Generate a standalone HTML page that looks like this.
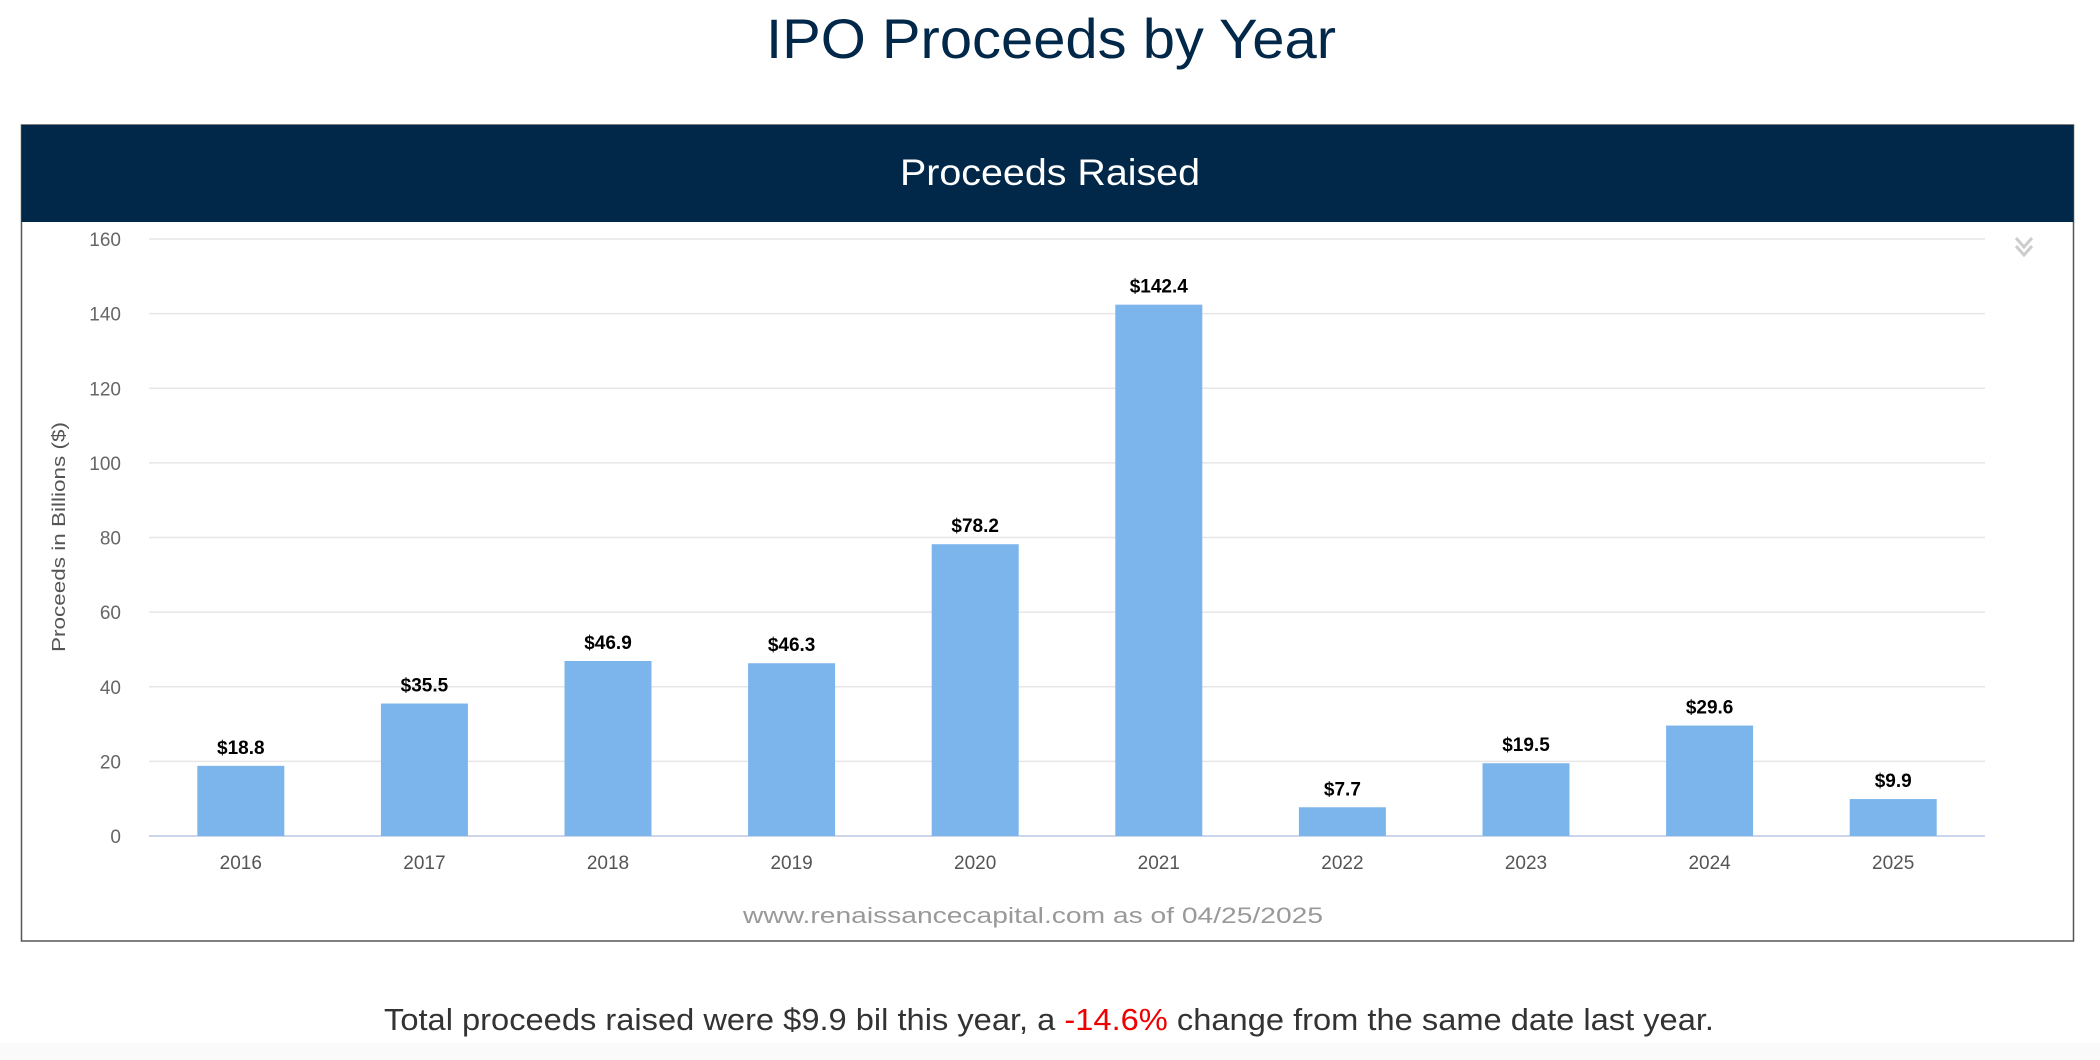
<!DOCTYPE html>
<html><head><meta charset="utf-8"><style>
html,body{margin:0;padding:0;background:#fff;width:2100px;height:1060px;overflow:hidden;font-family:"Liberation Sans",sans-serif}
</style></head><body>
<svg width="2100" height="1060" viewBox="0 0 2100 1060" xmlns="http://www.w3.org/2000/svg">
<rect x="0" y="1043" width="2100" height="17" fill="#fafafa"/>
<text x="1051" y="58" text-anchor="middle" font-size="56" fill="#012749" textLength="570" lengthAdjust="spacingAndGlyphs">IPO Proceeds by Year</text>
<rect x="21.5" y="125" width="2052" height="816" fill="#fff" stroke="#555" stroke-width="1.5"/>
<rect x="21.5" y="125" width="2052" height="97" fill="#012749"/>
<text x="1050" y="185" text-anchor="middle" font-size="37" fill="#fff" textLength="300" lengthAdjust="spacingAndGlyphs">Proceeds Raised</text>
<g id="grid"></g><g id="bars"></g><g id="labels"></g>
<text transform="translate(65,537) rotate(-90)" text-anchor="middle" font-size="18" fill="#555" textLength="230" lengthAdjust="spacingAndGlyphs">Proceeds in Billions ($)</text>
<g fill="none" stroke="#ccc" stroke-width="3">
<polyline points="2016,238 2024,247 2032,238"/><polyline points="2016,246 2024,255 2032,246"/></g>
<text x="1033" y="923" text-anchor="middle" font-size="22" fill="#999" textLength="580" lengthAdjust="spacingAndGlyphs">www.renaissancecapital.com as of 04/25/2025</text>
<text x="1049" y="1030" text-anchor="middle" font-size="31" fill="#333" textLength="1330" lengthAdjust="spacingAndGlyphs">Total proceeds raised were $9.9 bil this year, a <tspan fill="#e00">-14.6%</tspan> change from the same date last year.</text>
</svg>
<script>
const categories=["2016","2017","2018","2019","2020","2021","2022","2023","2024","2025"];
const values=[18.8,35.5,46.9,46.3,78.2,142.4,7.7,19.5,29.6,9.9];
const valueLabels=["$18.8","$35.5","$46.9","$46.3","$78.2","$142.4","$7.7","$19.5","$29.6","$9.9"];
const yTicks=[0,20,40,60,80,100,120,140,160];
const NS="http://www.w3.org/2000/svg";
const L=149,R=1985,Y0=836,Y1=239,YMAX=160;
const y=v=>Y0-(v/YMAX)*(Y0-Y1);
const bw=(R-L)/categories.length;
const x=i=>L+bw*(i+0.5);
function mk(tag,attrs,parent,text){const e=document.createElementNS(NS,tag);for(const k in attrs)e.setAttribute(k,attrs[k]);if(text!==undefined)e.textContent=text;parent.appendChild(e);return e;}
const grid=document.getElementById('grid'),bars=document.getElementById('bars'),labels=document.getElementById('labels');
yTicks.forEach(t=>{
  const ln=mk('line',{x1:L,x2:R,y1:y(t),y2:y(t),stroke:t===0?'#ccd6eb':'#e6e6e6','stroke-width':t===0?2:1.5},grid);
  
  
  const tx=mk('text',{x:121,y:y(t)+7,'text-anchor':'end','font-size':19,fill:'#666'},grid,String(t));
  
  
});
categories.forEach((c,i)=>{
  const w=87;
  const r=mk('rect',{x:x(i)-w/2,y:y(values[i]),width:w,height:Y0-y(values[i]),fill:'#7cb5ec'},bars);
  
  
  const v=mk('text',{x:x(i),y:y(values[i])-12,'text-anchor':'middle','font-size':19,'font-weight':'bold',fill:'#000'},labels,valueLabels[i]);
  
  
  const t=mk('text',{x:x(i),y:869,'text-anchor':'middle','font-size':19,fill:'#555'},labels,c);
  
  
});
</script>
</body></html>
